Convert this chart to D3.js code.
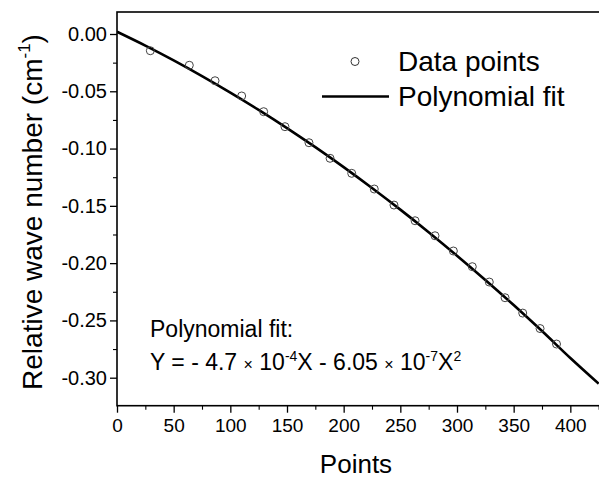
<!DOCTYPE html>
<html>
<head>
<meta charset="utf-8">
<script src="https://cdn.jsdelivr.net/npm/d3@7"></script>
<style>
  html, body { margin: 0; padding: 0; background: #fff; }
  svg { display: block; font-family: "Liberation Sans", Arial, sans-serif; }
</style>
</head>
<body>
<svg id="chart" width="599" height="478"></svg>
<script>
// ---- data ----
const pointX = [29.4, 63.8, 86.5, 110.0, 129.4, 148.2, 169.4, 188.0, 207.1, 227.0,
                244.4, 263.0, 280.6, 296.8, 313.5, 328.5, 342.4, 358.0, 373.3, 387.8];
const pointY = [-0.0146, -0.0273, -0.0408, -0.0541, -0.0678, -0.0809, -0.0949, -0.1085, -0.1216, -0.1353,
                -0.1493, -0.1630, -0.1761, -0.1894, -0.2031, -0.2165, -0.2302, -0.2436, -0.2571, -0.2706];
const fitX = [0, 25, 50, 75, 100, 125, 150, 175, 200, 225, 250, 275, 300, 325, 350, 375, 400, 425];
const fitY = [0.0020, -0.0101, -0.0230, -0.0367, -0.0511, -0.0662, -0.0821, -0.0988, -0.1162, -0.1344,
              -0.1533, -0.1730, -0.1935, -0.2147, -0.2366, -0.2593, -0.2828, -0.3052];
const xTicks = [0, 50, 100, 150, 200, 250, 300, 350, 400];
const xMinor = [25, 75, 125, 175, 225, 275, 325, 375, 425];
const yTicks = [0.00, -0.05, -0.10, -0.15, -0.20, -0.25, -0.30];
const yMinor = [-0.025, -0.075, -0.125, -0.175, -0.225, -0.275];
const legendLabels = ["Data points", "Polynomial fit"];
const xTitle = "Points";

// ---- layout ----
const svg = d3.select("#chart");
const mLeft = 117, mRight = 599, mTop = 12, mBottom = 405.7;

const x = d3.scaleLinear().domain([0, 425.3]).range([mLeft, mRight]);
const y0 = d3.scaleLinear().domain([0, -0.30]).range([34, 377.7]);
const y = d3.scaleLinear().domain([y0.invert(mTop), y0.invert(mBottom)]).range([mTop, mBottom]);

const fmtY = v => d3.format(".2f")(v).replace("\u2212", "-");

// clip
svg.append("defs").append("clipPath").attr("id", "clip")
  .append("rect").attr("x", mLeft).attr("y", mTop).attr("width", mRight - mLeft).attr("height", mBottom - mTop);

// x axis
const gx = svg.append("g").attr("transform", `translate(0,${mBottom})`)
  .call(d3.axisBottom(x).tickValues(xTicks).tickSize(7).tickPadding(6).tickFormat(d3.format("d")));
gx.select(".domain").remove();
gx.selectAll(".tick line").attr("stroke", "#000").attr("stroke-width", 1.3);
gx.selectAll(".tick text").attr("font-size", 19).attr("fill", "#000")
  .attr("font-family", "Liberation Sans, Arial, sans-serif");
const gxm = svg.append("g").attr("transform", `translate(0,${mBottom})`)
  .call(d3.axisBottom(x).tickValues(xMinor).tickSize(4).tickFormat(""));
gxm.select(".domain").remove();
gxm.selectAll(".tick line").attr("stroke", "#000").attr("stroke-width", 1.1);

// y axis
const gy = svg.append("g").attr("transform", `translate(${mLeft},0)`)
  .call(d3.axisLeft(y).tickValues(yTicks).tickSize(7).tickPadding(3).tickFormat(fmtY));
gy.select(".domain").remove();
gy.selectAll(".tick line").attr("stroke", "#000").attr("stroke-width", 1.3);
gy.selectAll(".tick text").attr("font-size", 20).attr("fill", "#000")
  .attr("font-family", "Liberation Sans, Arial, sans-serif");
const gym = svg.append("g").attr("transform", `translate(${mLeft},0)`)
  .call(d3.axisLeft(y).tickValues(yMinor).tickSize(4).tickFormat(""));
gym.select(".domain").remove();
gym.selectAll(".tick line").attr("stroke", "#000").attr("stroke-width", 1.1);

// frame
svg.append("rect").attr("x", mLeft).attr("y", mTop)
  .attr("width", mRight - mLeft + 2).attr("height", mBottom - mTop)
  .attr("fill", "none").attr("stroke", "#000").attr("stroke-width", 1.6);

// fit curve
const fitData = fitX.map((d, i) => [d, fitY[i]]);
svg.append("path").datum(fitData)
  .attr("clip-path", "url(#clip)")
  .attr("fill", "none").attr("stroke", "#000").attr("stroke-width", 2.6)
  .attr("d", d3.line().x(d => x(d[0])).y(d => y(d[1])).curve(d3.curveMonotoneX));

// data points
svg.append("g").selectAll("circle").data(pointX.map((d, i) => [d, pointY[i]]))
  .join("circle")
  .attr("cx", d => x(d[0])).attr("cy", d => y(d[1])).attr("r", 4)
  .attr("fill", "none").attr("stroke", "#444").attr("stroke-width", 1);

// legend
const lg = svg.append("g");
lg.append("circle").attr("cx", 355).attr("cy", 61.5).attr("r", 4)
  .attr("fill", "none").attr("stroke", "#333").attr("stroke-width", 1);
lg.append("line").attr("x1", 322).attr("x2", 389).attr("y1", 96.5).attr("y2", 96.5)
  .attr("stroke", "#000").attr("stroke-width", 2.6);
lg.selectAll("text").data(legendLabels).join("text")
  .attr("x", 398).attr("y", (d, i) => 71 + i * 35)
  .attr("font-size", 28).attr("fill", "#000").text(d => d);

// axis titles
svg.append("text").attr("x", (mLeft + mRight) / 2 - 2).attr("y", 473)
  .attr("text-anchor", "middle").attr("font-size", 26).attr("fill", "#000").text(xTitle);

const yt = svg.append("text").attr("transform", "translate(42,212) rotate(-90)")
  .attr("text-anchor", "middle").attr("font-size", 28).attr("fill", "#000");
yt.append("tspan").text("Relative wave number (cm");
yt.append("tspan").attr("font-size", 17).attr("dy", -12).text("-1");
yt.append("tspan").attr("dy", 12).text(")");

// annotation
const ann = svg.append("g").attr("font-size", 23).attr("fill", "#000");
ann.append("text").attr("x", 150).attr("y", 337).text("Polynomial fit:");
const eq = ann.append("text").attr("x", 150).attr("y", 370);
eq.append("tspan").text("Y = - 4.7 ");
eq.append("tspan").attr("font-size", 16).text("\u00d7");
eq.append("tspan").text(" 10");
eq.append("tspan").attr("font-size", 14).attr("dy", -9).text("-4");
eq.append("tspan").attr("dy", 9).text("X - 6.05 ");
eq.append("tspan").attr("font-size", 16).text("\u00d7");
eq.append("tspan").text(" 10");
eq.append("tspan").attr("font-size", 14).attr("dy", -9).text("-7");
eq.append("tspan").attr("dy", 9).text("X");
eq.append("tspan").attr("font-size", 14).attr("dy", -9).text("2");
</script>
</body>
</html>
